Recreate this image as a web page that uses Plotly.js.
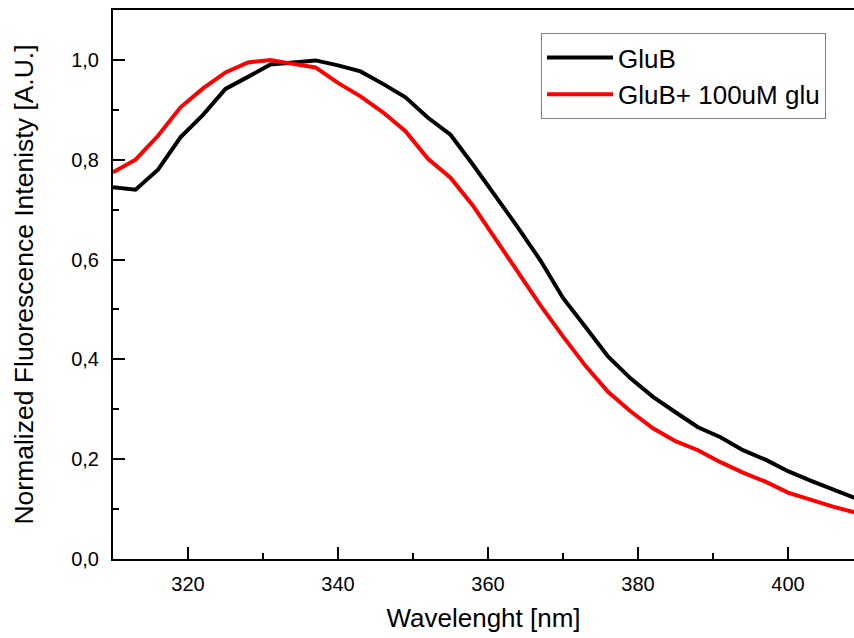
<!DOCTYPE html>
<html>
<head>
<meta charset="utf-8">
<script src="https://cdn.plot.ly/plotly-3.0.1.min.js"></script>
<style>html,body{margin:0;padding:0;background:#fff;}#chart{width:854px;height:638px;}</style>
</head>
<body>
<div id="chart"></div>
<script>
const wavelength = [310,313,316,319,322,325,328,331,334,337,340,343,346,349,352,355,358,361,364,367,370,373,376,379,382,385,388,391,394,397,400,403,406,409];
const glub = [0.745,0.740,0.780,0.845,0.890,0.942,0.966,0.991,0.995,0.999,0.989,0.977,0.952,0.925,0.884,0.850,0.790,0.728,0.664,0.598,0.523,0.465,0.406,0.362,0.325,0.294,0.264,0.244,0.218,0.199,0.176,0.157,0.140,0.122];
const glubGlu = [0.775,0.800,0.848,0.905,0.943,0.975,0.995,1.000,0.992,0.985,0.954,0.927,0.895,0.857,0.802,0.764,0.708,0.642,0.575,0.508,0.446,0.387,0.335,0.296,0.262,0.236,0.218,0.194,0.173,0.155,0.133,0.118,0.105,0.093];
const seriesNames = ["GluB", "GluB+ 100uM glu"];

const font = "Liberation Sans, Arial, sans-serif";
const traces = [
  {x: wavelength, y: glub, name: seriesNames[0], type: "scatter", mode: "lines",
   line: {color: "#000000", width: 4}},
  {x: wavelength, y: glubGlu, name: seriesNames[1], type: "scatter", mode: "lines",
   line: {color: "#ff0000", width: 4}}
];
const layout = {
  width: 854, height: 638,
  margin: {l: 113, r: 0, t: 10, b: 79, pad: 0},
  paper_bgcolor: "#ffffff", plot_bgcolor: "#ffffff",
  separators: ",.",
  font: {family: font, color: "#000000", size: 20},
  showlegend: true,
  legend: {x: 0.5776, y: 0.958, xanchor: "left", yanchor: "top",
    bordercolor: "#808080", borderwidth: 1, bgcolor: "#ffffff",
    font: {family: font, size: 26, color: "#000000"}, itemwidth: 66, tracegroupgap: 0},
  xaxis: {
    range: [310, 408.8], autorange: false,
    showgrid: false, zeroline: false,
    showline: true, linecolor: "#000000", linewidth: 2, mirror: true,
    ticks: "inside", ticklen: 12, tickwidth: 2, tickcolor: "#000000",
    dtick: 20, tick0: 0,
    minor: {ticks: "inside", ticklen: 6, tickwidth: 2, tickcolor: "#000000", dtick: 10, showgrid: false},
    tickfont: {family: font, size: 20},
    ticklabelstandoff: 6,
    title: {text: "Wavelenght [nm]", font: {family: font, size: 26}, standoff: 15}
  },
  yaxis: {
    range: [0, 1.1], autorange: false,
    showgrid: false, zeroline: false,
    showline: true, linecolor: "#000000", linewidth: 2, mirror: false,
    ticks: "inside", ticklen: 12, tickwidth: 2, tickcolor: "#000000",
    dtick: 0.2, tick0: 0, tickformat: ".1f",
    minor: {ticks: "inside", ticklen: 6, tickwidth: 2, tickcolor: "#000000", dtick: 0.1, showgrid: false},
    tickfont: {family: font, size: 20},
    ticklabelstandoff: 8,
    title: {text: "Normalized Fluorescence Intenisty [A.U.]", font: {family: font, size: 26.5}, standoff: 30}
  }
};
Plotly.newPlot("chart", traces, layout, {staticPlot: true, displayModeBar: false});
</script>
</body>
</html>
